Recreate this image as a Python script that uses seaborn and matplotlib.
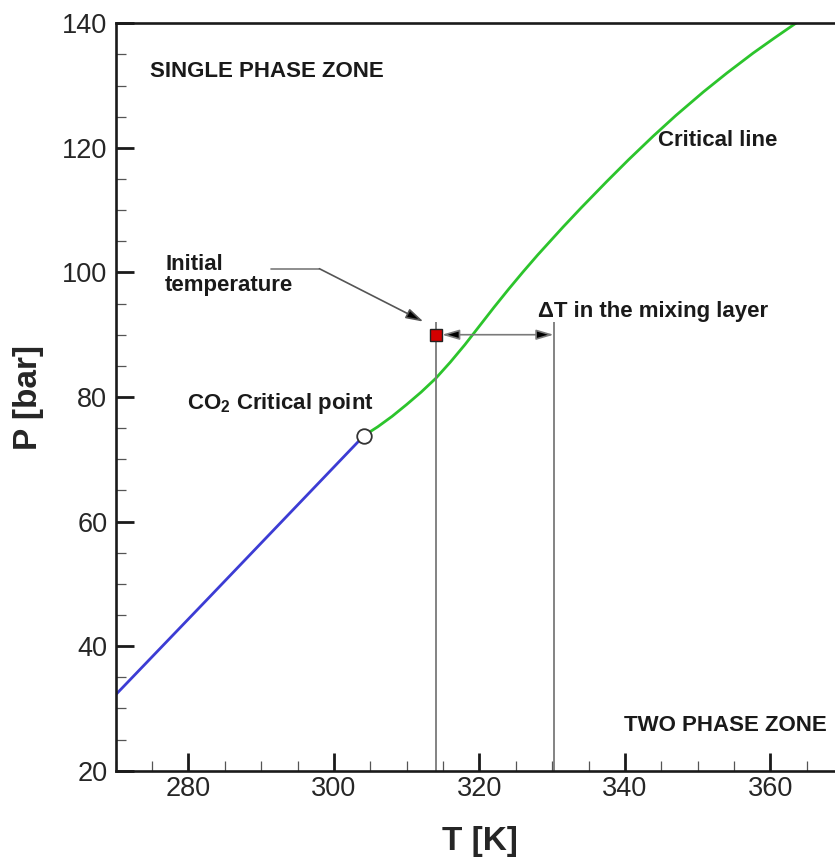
import matplotlib
matplotlib.use("Agg")
import matplotlib.pyplot as plt
from matplotlib.ticker import MultipleLocator
import seaborn as sns
import pandas as pd

# ---- data ----
vap_T = [270.0, 282.5, 304.13]
vap_P = [32.2, 47.4, 73.8]

crit_T = [304.13, 306.0, 308.0, 310.0, 312.0, 314.0, 316.0, 318.0, 320.0, 322.0,
          324.0, 326.0, 328.0, 331.5, 334.0, 337.5, 340.5, 343.9, 347.0, 350.8,
          354.0, 357.6, 360.5, 363.1, 365.0]
crit_P = [73.8, 75.2, 76.9, 78.8, 80.8, 83.0, 85.6, 88.4, 91.4, 94.4,
          97.3, 100.1, 102.8, 107.3, 110.4, 114.6, 118.1, 121.9, 125.2, 129.0,
          132.0, 135.2, 137.6, 139.7, 141.2]

cp_T, cp_P = 304.13, 73.8          # CO2 critical point
T_init, P_init = 314.0, 90.0       # initial temperature
T_mix = 330.2                      # end of the mixing-layer delta T
P_guide_top = 92.1                 # top of the vertical guide lines

x_ticks = [280, 300, 320, 340, 360]
y_ticks = [20, 40, 60, 80, 100, 120, 140]

sns.set_style("ticks")
plt.rcParams['font.family'] = ['Liberation Sans', 'DejaVu Sans']
plt.rcParams['mathtext.fontset'] = 'custom'
plt.rcParams['mathtext.rm'] = 'Liberation Sans'
plt.rcParams['mathtext.bf'] = 'Liberation Sans:bold'

fig = plt.figure(figsize=(8.35, 8.61), dpi=100)
ax = fig.add_axes([115.7 / 835, 90.3 / 861, 727.5 / 835, 747.4 / 861])

vap = pd.DataFrame({"T": vap_T, "P": vap_P})
crit = pd.DataFrame({"T": crit_T, "P": crit_P})

sns.lineplot(data=vap, x="T", y="P", ax=ax, color="#3c3cd4", lw=2.0,
             sort=False, estimator=None)
sns.lineplot(data=crit, x="T", y="P", ax=ax, color="#2cc42c", lw=2.0,
             sort=False, estimator=None)

# guide lines
ax.vlines([T_init, T_mix], 20, P_guide_top, color="#7a7a7a", lw=1.3, zorder=2)

# double arrow for delta T
ax.annotate("", xy=(T_init + 0.85, P_init), xytext=(T_mix, P_init),
            arrowprops=dict(arrowstyle="<|-|>,head_length=0.75,head_width=0.22",
                            fc="black", ec="#7a7a7a", lw=1.2, mutation_scale=14,
                            shrinkA=0, shrinkB=0), zorder=3)

# leader for "Initial temperature"
ax.plot([291.4, 298.0], [100.6, 100.6], color="#7a7a7a", lw=1.2)
ax.annotate("", xy=(312.3, 92.1), xytext=(298.0, 100.6),
            arrowprops=dict(arrowstyle="-|>,head_length=0.75,head_width=0.22",
                            fc="black", ec="#555555", lw=1.2, mutation_scale=14,
                            shrinkA=0, shrinkB=0))

# markers
ax.plot([T_init], [P_init], marker="s", ms=8.5, mfc="#d40000", mec="#222222",
        mew=1.0, zorder=5, ls="none")
ax.plot([cp_T], [cp_P], marker="o", ms=10.5, mfc="white", mec="#333333",
        mew=1.3, zorder=5, ls="none")

# texts
fs = 16
ax.text(274.7, 132.2, "SINGLE PHASE ZONE", fontsize=fs, fontweight="bold",
        ha="left", va="center", color="#1a1a1a")
ax.text(344.6, 121.2, "Critical line", fontsize=fs, fontweight="bold",
        ha="left", va="center", color="#1a1a1a")
ax.text(367.8, 27.2, "TWO PHASE ZONE", fontsize=fs, fontweight="bold",
        ha="right", va="center", color="#1a1a1a")
ax.text(276.8, 99.6, "Initial\ntemperature", fontsize=fs, fontweight="bold",
        ha="left", va="center", linespacing=1.0, color="#1a1a1a")
ax.text(328.0, 93.7, "\u0394T in the mixing layer", fontsize=fs, fontweight="bold",
        ha="left", va="center", color="#1a1a1a")
ax.text(279.8, 79.0, r"CO$_\mathbf{2}$ Critical point", fontsize=fs, fontweight="bold",
        ha="left", va="center", color="#1a1a1a")

# axes
ax.set_xlim(270, 370)
ax.set_ylim(20, 140)
ax.set_xticks(x_ticks)
ax.set_yticks(y_ticks)
ax.xaxis.set_minor_locator(MultipleLocator(5))
ax.yaxis.set_minor_locator(MultipleLocator(5))
ax.tick_params(which="major", direction="in", length=13, width=2.0,
               color="#1a1a1a", labelsize=19.5, top=False, right=False)
ax.tick_params(which="minor", direction="in", length=7, width=0.9,
               color="#555555", top=False, right=False)
ax.tick_params(axis="x", which="major", pad=4)
ax.tick_params(axis="y", which="major", pad=6)

for s in ["left", "bottom", "top"]:
    ax.spines[s].set_linewidth(1.9)
    ax.spines[s].set_color("#1a1a1a")
ax.spines["right"].set_visible(False)

ax.set_xlabel("T [K]", fontsize=24, fontweight="bold", va="center")
ax.set_ylabel("P [bar]", fontsize=24, fontweight="bold", va="center")
ax.xaxis.set_label_coords(0.5, (770.7 - 841.7) / 747.4)
ax.yaxis.set_label_coords((28 - 115.7) / 727.5, 0.5)

fig.savefig("out.png", dpi=100)
